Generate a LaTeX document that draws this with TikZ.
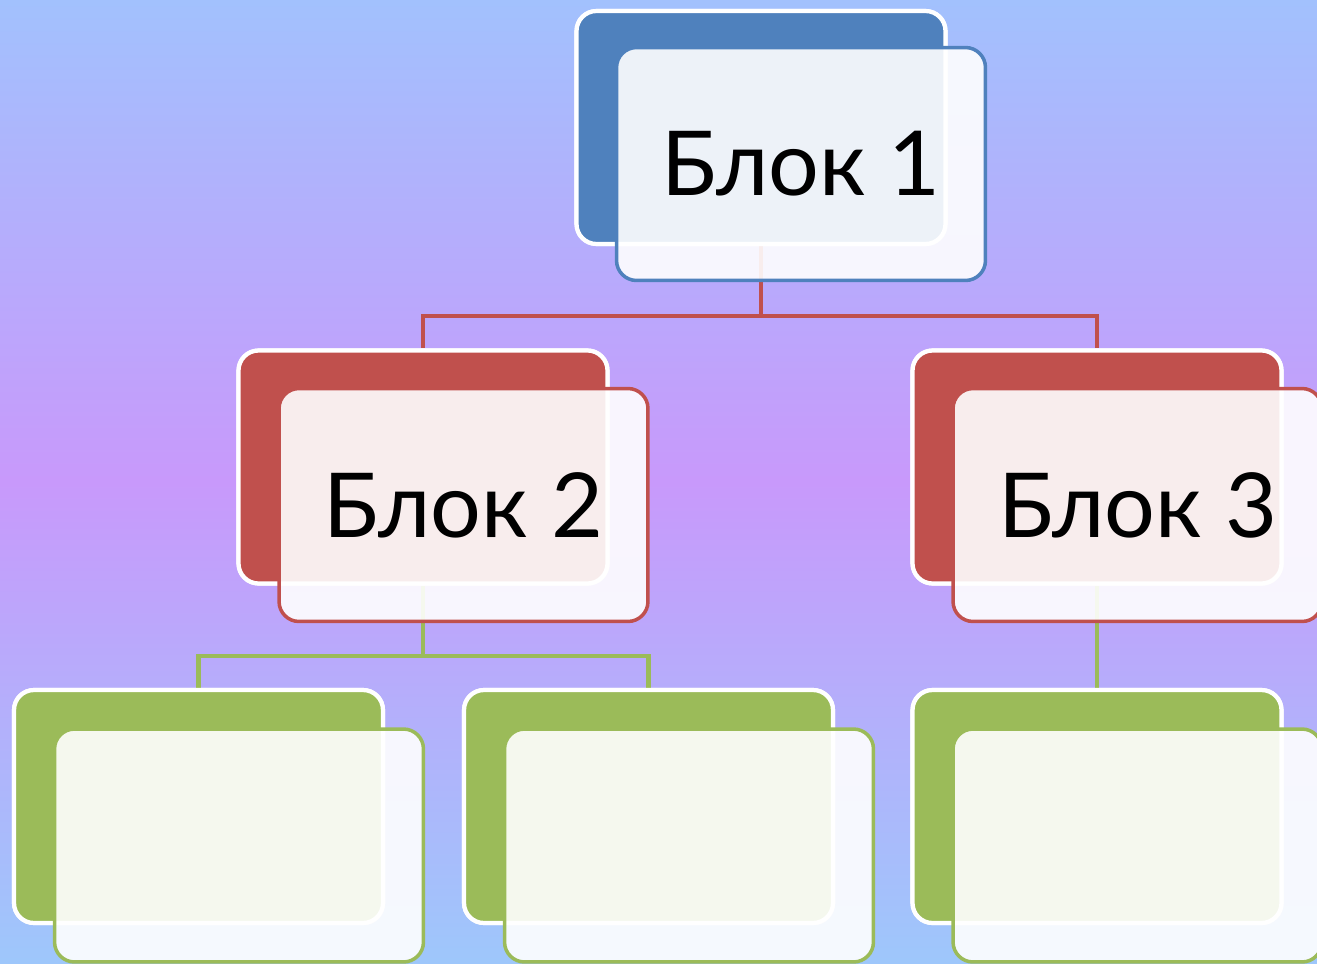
\documentclass[tikz,border=0pt]{standalone}
\usepackage{fontspec}
\setmainfont{Lato}
\definecolor{bgtop}{HTML}{A2C1FD}
\definecolor{bgmid}{HTML}{C899FB}
\definecolor{bgbot}{HTML}{9EC7FB}
\definecolor{cblue}{HTML}{4F81BD}
\definecolor{cred}{HTML}{C0504D}
\definecolor{cgreen}{HTML}{9BBB59}
\begin{document}
\begin{tikzpicture}[x=0.02cm,y=-0.02cm,
  backbox/.style={draw=white, fill=#1, line width=2.4pt, rounded corners=0.4cm,
    minimum width=7.38cm, minimum height=4.66cm, inner sep=0pt},
  frontbox/.style={draw=#1, line width=2pt, fill=white, fill opacity=0.9, text opacity=1,
    rounded corners=0.4cm, minimum width=7.38cm, minimum height=4.66cm, inner sep=0pt,
    font=\fontsize{51}{51}\selectfont},
  conn/.style={draw=#1, line width=2.7pt}]
\useasboundingbox (0,0) rectangle (1317,963);
\shade[top color=bgtop, bottom color=bgbot, middle color=bgmid] (0,0) rectangle (1317,963);
% junction coordinates
\coordinate (j1) at (761,316);
\coordinate (j2) at (423,656);
% back boxes
\path (761,127.5) node[backbox=cblue] (b1back) {};
\path (423,467) node[backbox=cred] (b2back) {};
\path (1097,467) node[backbox=cred] (b3back) {};
\path (198.5,806.5) node[backbox=cgreen] (b4back) {};
\path (648.5,806.5) node[backbox=cgreen] (b5back) {};
\path (1097,806.5) node[backbox=cgreen] (b6back) {};
% connectors (behind)
\draw[conn=cred] (b1back.south) -- (j1) -| (b2back.north);
\draw[conn=cred] (j1) -| (b3back.north);
\draw[conn=cgreen] (b2back.south) -- (j2) -| (b4back.north);
\draw[conn=cgreen] (j2) -| (b5back.north);
\draw[conn=cgreen] (b3back.south) -- (b6back.north);
% redraw back boxes above connectors
\path (761,127.5) node[backbox=cblue] {};
\path (423,467) node[backbox=cred] {};
\path (1097,467) node[backbox=cred] {};
\path (198.5,806.5) node[backbox=cgreen] {};
\path (648.5,806.5) node[backbox=cgreen] {};
\path (1097,806.5) node[backbox=cgreen] {};
% front boxes
\node[frontbox=cblue] (b1) at (801,164) {Блок 1};
\node[frontbox=cred] (b2) at (463.5,505) {Блок 2};
\node[frontbox=cred] (b3) at (1137.5,505) {Блок 3};
\node[frontbox=cgreen] (b4) at (239,845.5) {};
\node[frontbox=cgreen] (b5) at (689,845.5) {};
\node[frontbox=cgreen] (b6) at (1137.5,845.5) {};
\end{tikzpicture}
\end{document}
